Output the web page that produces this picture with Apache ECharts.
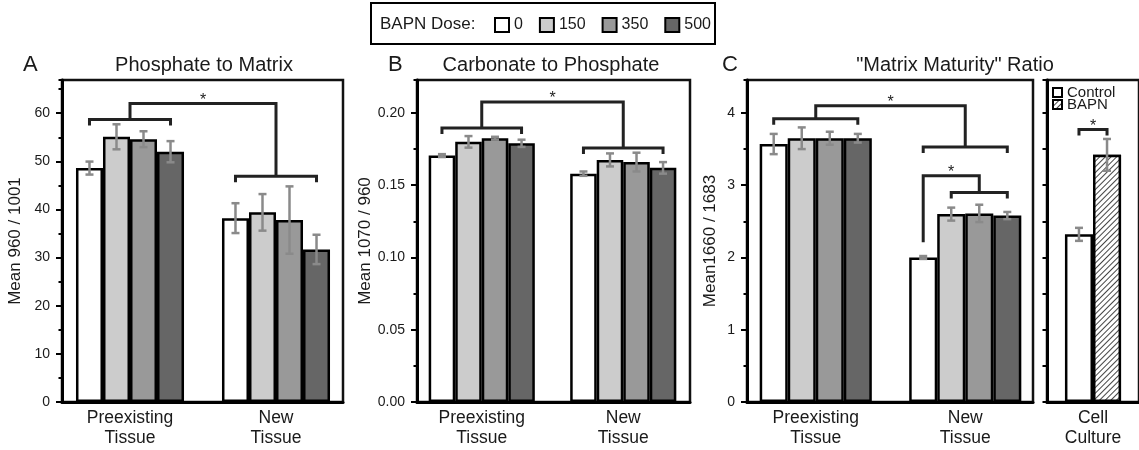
<!DOCTYPE html>
<html><head><meta charset="utf-8">
<script src="https://cdn.jsdelivr.net/npm/echarts@6/dist/echarts.min.js"></script>
<style>html,body{margin:0;padding:0;background:#fff}#c{width:1139px;height:450px}</style>
</head><body><div id="c"></div>
<script>
// ---------------- DATA ----------------
const categories = ['Preexisting\nTissue', 'New\nTissue'];
const cellCategories = ['Cell\nCulture'];
const doses = ['0', '150', '350', '500'];
const cellGroups = ['Control', 'BAPN'];

// Panel A: Phosphate to Matrix (per dose: [Preexisting, New])
const phosMean = [[48.6, 38.2], [55.1, 39.4], [54.6, 37.8], [52.0, 31.7]];
const phosErr  = [[1.35, 3.1], [2.6, 3.8], [1.65, 7.0], [2.2, 3.05]];
// Panel B: Carbonate to Phosphate
const carbMean = [[0.1705, 0.158], [0.180, 0.1675], [0.1825, 0.166], [0.179, 0.162]];
const carbErr  = [[0.001, 0.0015], [0.004, 0.0045], [0.001, 0.0065], [0.0025, 0.004]];
// Panel C: "Matrix Maturity" Ratio
const matMean = [[3.57, 2.00], [3.65, 2.60], [3.65, 2.61], [3.65, 2.58]];
const matErr  = [[0.14, 0.02], [0.15, 0.09], [0.09, 0.12], [0.06, 0.05]];
// Panel D: Cell Culture
const cellMean = [[2.32], [3.42]];
const cellErr  = [[0.09], [0.22]];

// Significance brackets: [category, first bar, last bar, level, star]
const phosGroupBrackets = [[0, 0, 3, 58.7, 0], [1, 0, 3, 46.9, 0]];
const carbGroupBrackets = [[0, 0, 3, 0.1896, 0], [1, 0, 3, 0.1758, 0]];
const matGroupBrackets  = [[0, 0, 3, 3.92, 0], [1, 0, 3, 3.53, 0], [1, 1, 3, 2.90, 0]];
const cellGroupBrackets = [[0, 0, 1, 3.77, 1]];
// Links: [catA, barPosA, levelA, catB, barPosB, levelB, top]
const phosLinks = [[0, 1.5, 58.7, 1, 1.5, 46.9, 62.0]];
const carbLinks = [[0, 1.5, 0.1896, 1, 1.5, 0.1758, 0.2076]];
const matLinks  = [[0, 1.5, 3.92, 1, 1.5, 3.53, 4.10], [1, 0, 2.21, 1, 2, 2.90, 3.13]];
const cellLinks = [];

// ---------------- STYLE / LAYOUT ----------------
const FONT = '"Liberation Sans", Arial, sans-serif';
const TXT = '#1a1a1a';
const doseColors = ['#ffffff', '#cccccc', '#999999', '#666666'];
const TOP = 80, H = 322;
const hatch = {symbol: 'rect', symbolSize: 1, dashArrayX: [1, 0], dashArrayY: [1, 3],
  rotation: -Math.PI / 4, color: '#444', backgroundColor: '#ffffff'};

const panels = [
  {frame: [62, 281], data: [57, 292], gap: 0.26, max: 66.9, major: 10, minor: 5, majorTick: 6, dec: 0,
   labels: true, name: 'Mean 960 / 1001', nameGap: 38, cats: categories,
   names: doses, colors: doseColors, mean: phosMean, err: phosErr, groups: phosGroupBrackets, links: phosLinks},
  {frame: [417, 273], data: [411, 283], gap: 0.25, max: 0.2228, major: 0.05, minor: 0.025, majorTick: 6, dec: 2,
   labels: true, name: 'Mean 1070 / 960', nameGap: 36, cats: categories,
   names: doses, colors: doseColors, mean: carbMean, err: carbErr, groups: carbGroupBrackets, links: carbLinks},
  {frame: [747, 286], data: [741, 299], gap: 0.25, max: 4.456, major: 1, minor: 0.5, majorTick: 6, dec: 0,
   labels: true, name: 'Mean1660 / 1683', nameGap: 28, cats: categories,
   names: doses, colors: doseColors, mean: matMean, err: matErr, groups: matGroupBrackets, links: matLinks},
  {frame: [1047, 125], data: [1047, 103], gap: 0.39, max: 4.456, major: 0.5, minor: null, majorTick: 4.5, dec: 1,
   labels: false, name: '', nameGap: 0, cats: cellCategories,
   names: cellGroups, colors: ['#ffffff', '#ffffff'], mean: cellMean, err: cellErr, groups: cellGroupBrackets, links: cellLinks,
   decals: [null, hatch]}
];

const grid = [], xAxis = [], yAxis = [], series = [];

panels.forEach((p, i) => {
  const fg = grid.length;
  grid.push({left: p.frame[0], top: TOP, width: p.frame[1], height: H, show: true,
    borderColor: '#111', borderWidth: 2.5, backgroundColor: 'transparent'});
  const dg = grid.length;
  grid.push({left: p.data[0], top: TOP, width: p.data[1], height: H});

  xAxis.push({type: 'value', gridIndex: fg, min: 0, max: 1, position: 'bottom',
    axisLine: {show: true, onZero: false, lineStyle: {color: '#000', width: 3}},
    axisTick: {show: false}, axisLabel: {show: false}, splitLine: {show: false}});
  const dx = xAxis.length;
  xAxis.push({type: 'category', gridIndex: dg, data: p.cats, position: 'bottom',
    axisLine: {show: false}, axisTick: {show: false}, splitLine: {show: false},
    axisLabel: {fontSize: 17.5, lineHeight: 20, color: TXT, fontFamily: FONT, margin: 6, interval: 0}});

  yAxis.push({type: 'value', gridIndex: fg, min: 0, max: p.max, interval: p.major, position: 'left',
    name: p.name, nameLocation: 'middle', nameGap: p.nameGap, nameRotate: 90,
    nameTextStyle: {fontSize: 17, color: TXT, fontFamily: FONT},
    axisLine: {show: true, onZero: false, lineStyle: {color: '#000', width: 3}},
    axisTick: {show: true, inside: false, length: p.majorTick, lineStyle: {color: '#000', width: 2}},
    axisLabel: {show: p.labels, showMaxLabel: false, margin: 12, fontSize: 14, color: TXT, fontFamily: FONT,
      formatter: v => Number(v).toFixed(p.dec)},
    splitLine: {show: false}});
  if (p.minor) {
    yAxis.push({type: 'value', gridIndex: fg, min: 0, max: p.max, interval: p.minor, position: 'left',
      axisLine: {show: false}, axisLabel: {show: false}, splitLine: {show: false},
      axisTick: {show: true, inside: false, length: 3.5, lineStyle: {color: '#000', width: 2}}});
  }
  const dy = yAxis.length;
  yAxis.push({type: 'value', gridIndex: dg, min: 0, max: p.max, show: false, splitLine: {show: false}});

  const n = p.names.length;
  p.names.forEach((nm, d) => {
    const st = {color: p.colors[d], borderColor: '#000', borderWidth: 2.5};
    if (p.decals && p.decals[d]) st.decal = p.decals[d];
    series.push({type: 'bar', name: nm, xAxisIndex: dx, yAxisIndex: dy, data: p.mean[d],
      barGap: '0%', barCategoryGap: (p.gap * 100) + '%', itemStyle: st, silent: true, z: 2});
  });

  // error bars
  const errData = [];
  p.mean.forEach((arr, d) => arr.forEach((m, c) => errData.push([c, d, m, p.err[d][c]])));
  series.push({type: 'custom', xAxisIndex: dx, yAxisIndex: dy, silent: true, z: 4, clip: false,
    encode: {x: 0, y: 2}, data: errData,
    renderItem(params, api) {
      const c = api.value(0), d = api.value(1), m = api.value(2), e = api.value(3);
      const band = api.size([1, 0])[0];
      const bw = band * (1 - p.gap) / n;
      const x = api.coord([c, m])[0] + (d - (n - 1) / 2) * bw;
      const y1 = api.coord([c, m + e])[1], y2 = api.coord([c, m - e])[1];
      const s = {stroke: '#8a8a8a', lineWidth: 2.5};
      return {type: 'group', children: [
        {type: 'line', shape: {x1: x, y1: y1, x2: x, y2: y2}, style: s},
        {type: 'line', shape: {x1: x - 4, y1: y1, x2: x + 4, y2: y1}, style: s},
        {type: 'line', shape: {x1: x - 4, y1: y2, x2: x + 4, y2: y2}, style: s}
      ]};
    }});

  // brackets
  const specs = p.groups.map(g => ({k: 'g', v: g})).concat(p.links.map(l => ({k: 'l', v: l})));
  series.push({type: 'custom', xAxisIndex: dx, yAxisIndex: dy, silent: true, z: 5, clip: false,
    encode: {x: 0, y: 1},
    data: specs.map(s => s.k === 'g' ? [s.v[0], s.v[3]] : [s.v[0], s.v[6]]),
    renderItem(params, api) {
      const s = specs[params.dataIndex];
      const band = api.size([1, 0])[0];
      const bw = band * (1 - p.gap) / n;
      const X = (cat, pos) => api.coord([cat, 0])[0] + (pos - (n - 1) / 2) * bw;
      const Y = v => api.coord([0, v])[1];
      const ls = {stroke: '#222', lineWidth: 3, fill: null};
      const star = (x, y) => ({type: 'text', style: {x: x, y: y - 3, text: '*', fill: '#222',
        font: '16px ' + FONT, align: 'center', verticalAlign: 'middle'}});
      const ch = [];
      if (s.k === 'g') {
        const [cat, a, b, lv, st] = s.v;
        const x1 = X(cat, a), x2 = X(cat, b), y = Y(lv);
        ch.push({type: 'polyline', shape: {points: [[x1, y + 6], [x1, y], [x2, y], [x2, y + 6]]}, style: ls});
        if (st) ch.push(star((x1 + x2) / 2, y));
      } else {
        const [ca, pa, la, cb, pb, lb, top] = s.v;
        const xa = X(ca, pa), xb = X(cb, pb), yt = Y(top);
        ch.push({type: 'polyline', shape: {points: [[xa, Y(la)], [xa, yt], [xb, yt], [xb, Y(lb)]]}, style: ls});
        ch.push(star((xa + xb) / 2, yt));
      }
      return {type: 'group', children: ch};
    }});
});

const titleStyle = {fontSize: 20, fontWeight: 'normal', color: TXT, fontFamily: FONT};
const letterStyle = {fontSize: 22, fontWeight: 'normal', color: TXT, fontFamily: FONT};

const option = {
  animation: false,
  backgroundColor: '#ffffff',
  title: [
    {text: 'A', left: 23, top: 54, padding: 0, textStyle: letterStyle},
    {text: 'Phosphate to Matrix', left: 204, top: 55, padding: 0, textAlign: 'center', textStyle: titleStyle},
    {text: 'B', left: 388, top: 54, padding: 0, textStyle: letterStyle},
    {text: 'Carbonate to Phosphate', left: 551, top: 55, padding: 0, textAlign: 'center', textStyle: titleStyle},
    {text: 'C', left: 722, top: 54, padding: 0, textStyle: letterStyle},
    {text: '"Matrix Maturity" Ratio', left: 955, top: 55, padding: 0, textAlign: 'center', textStyle: titleStyle}
  ],
  graphic: [
    {type: 'rect', z: 0, shape: {x: 371, y: 3, width: 344, height: 41},
     style: {fill: '#fff', stroke: '#000', lineWidth: 2}},
    {type: 'text', z: 1, style: {x: 380, y: 24, text: 'BAPN Dose:', fill: TXT,
     font: '17px ' + FONT, verticalAlign: 'middle'}}
  ],
  legend: [
    {data: doses, left: 494, top: 17, itemWidth: 14, itemHeight: 14, itemGap: 16, selectedMode: false,
     icon: 'rect', itemStyle: {borderColor: '#000', borderWidth: 2},
     textStyle: {fontSize: 16, color: TXT, fontFamily: FONT}, padding: 0},
    {data: cellGroups, left: 1052, top: 85, orient: 'vertical', itemWidth: 9, itemHeight: 9, itemGap: -3,
     selectedMode: false, icon: 'rect', itemStyle: {borderColor: '#000', borderWidth: 2},
     textStyle: {fontSize: 15, lineHeight: 11, color: TXT, fontFamily: FONT}, padding: 0}
  ],
  grid: grid, xAxis: xAxis, yAxis: yAxis, series: series
};

const chart = echarts.init(document.getElementById('c'));
chart.setOption(option);
</script>
</body></html>
